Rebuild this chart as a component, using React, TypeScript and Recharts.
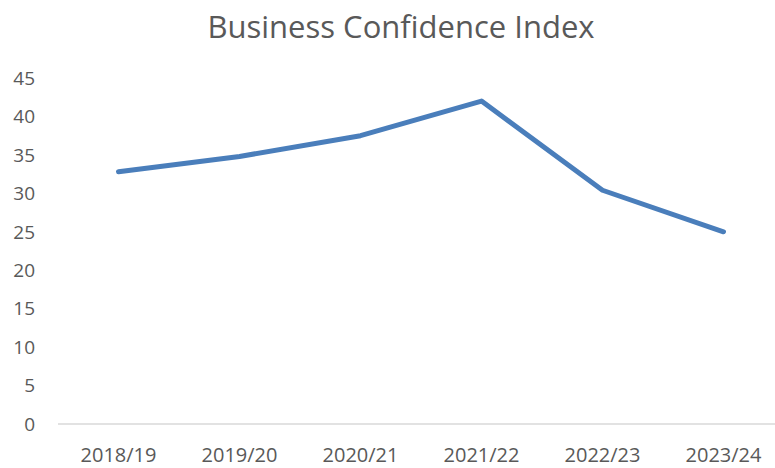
import React from "react";
import { LineChart, Line, XAxis, YAxis } from "recharts";

const years = ["2018/19", "2019/20", "2020/21", "2021/22", "2022/23", "2023/24"];
const confidence = [32.8, 34.8, 37.5, 42.0, 30.4, 25.0];
const yTicks = [0, 5, 10, 15, 20, 25, 30, 35, 40, 45];

const data = years.map((year, i) => ({ year, value: confidence[i] }));

const FONT = "'Open Sans', sans-serif";
const GREY = "#595959";

export default function App() {
    return (
        <div
            style={{
                position: "fixed",
                left: 0,
                top: 0,
                width: 775,
                height: 468,
                overflow: "hidden",
                background: "#fff",
                fontFamily: FONT,
            }}
        >
            <div
                style={{
                    position: "absolute",
                    left: 0,
                    top: 0,
                    width: 802,
                    textAlign: "center",
                    fontSize: 31,
                    color: GREY,
                    lineHeight: "52px",
                }}
            >
                Business Confidence Index
            </div>
            <LineChart
                width={802}
                height={468}
                data={data}
                margin={{ top: 78, right: 18, bottom: 0, left: 0 }}
            >
                <XAxis
                    dataKey="year"
                    height={44}
                    padding={{ left: 60.5, right: 60.5 }}
                    axisLine={{ stroke: "#d9d9d9", strokeWidth: 1.5 }}
                    tickLine={false}
                    tickSize={0}
                    tickMargin={24}
                    tick={{ fill: GREY, fontSize: 20, fontFamily: FONT }}
                />
                <YAxis
                    width={58}
                    domain={[0, 45]}
                    ticks={yTicks}
                    axisLine={false}
                    tickLine={false}
                    tickSize={0}
                    tickMargin={23}
                    tick={{ fill: GREY, fontSize: 19, fontFamily: FONT }}
                />
                <Line
                    type="linear"
                    dataKey="value"
                    stroke="#4a7ebb"
                    strokeWidth={5}
                    strokeLinecap="round"
                    strokeLinejoin="round"
                    dot={false}
                    activeDot={false}
                    isAnimationActive={false}
                />
            </LineChart>
        </div>
    );
}
